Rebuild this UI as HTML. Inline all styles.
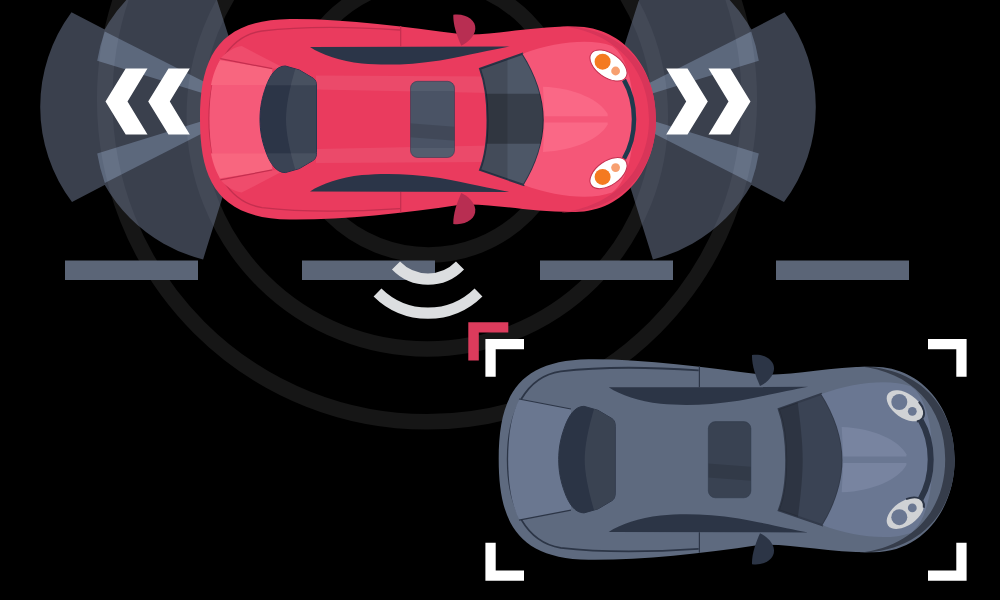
<!DOCTYPE html>
<html><head><meta charset="utf-8"><style>
html,body{margin:0;padding:0;background:#000;}
svg{display:block;}
</style></head><body>
<svg width="1000" height="600" viewBox="0 0 1000 600">
<rect width="1000" height="600" fill="#000"/>

<g fill="none" stroke="#161616" stroke-width="15.5">
  <circle cx="428.5" cy="117" r="138"/>
  <circle cx="427.3" cy="116" r="233"/>
  <circle cx="427" cy="99.5" r="322.3"/>
</g>

<g opacity="0.58">
  <path d="M254,107 L71.5,12.3 A158.4,158.4 0 0 0 72,202 Z M251,106 L213.8,-10 L136.5,-10 A157,157 0 0 0 203.1,259.4 Z" fill="#646e85"/>
  <path d="M264,112 L104.8,31.4 A170,170 0 0 0 97.2,60.7 Z" fill="#9fb3d6"/>
  <path d="M264,102 L97.2,153.6 A170,170 0 0 0 104.8,182.9 Z" fill="#9fb3d6"/>
</g>
<path d="M147.5,68.5 L125.7,68.5 L105.5,101.5 L125.7,134.5 L147.5,134.5 L127.5,101.5 Z M189.8,68.5 L168.5,68.5 L148.2,101.5 L168.5,134.5 L189.8,134.5 L169.8,101.5 Z" fill="#ffffff"/>
<g transform="translate(856,0) scale(-1,1)">
<g opacity="0.58">
  <path d="M254,107 L71.5,12.3 A158.4,158.4 0 0 0 72,202 Z M251,106 L213.8,-10 L136.5,-10 A157,157 0 0 0 203.1,259.4 Z" fill="#646e85"/>
  <path d="M264,112 L104.8,31.4 A170,170 0 0 0 97.2,60.7 Z" fill="#9fb3d6"/>
  <path d="M264,102 L97.2,153.6 A170,170 0 0 0 104.8,182.9 Z" fill="#9fb3d6"/>
</g>
<path d="M147.5,68.5 L125.7,68.5 L105.5,101.5 L125.7,134.5 L147.5,134.5 L127.5,101.5 Z M189.8,68.5 L168.5,68.5 L148.2,101.5 L168.5,134.5 L189.8,134.5 L169.8,101.5 Z" fill="#ffffff"/></g>
<g fill="#5b6577"><rect x="65" y="260.5" width="133" height="19.5"/><rect x="302" y="260.5" width="133" height="19.5"/><rect x="540" y="260.5" width="133" height="19.5"/><rect x="776" y="260.5" width="133" height="19.5"/></g>

<g fill="none" stroke="#dcdee0" stroke-width="11.2">
  <path d="M396,265.5 A44.5,44.5 0 0 0 460,265.5"/>
  <path d="M377.5,292.5 A72,72 0 0 0 478.5,292.5"/>
</g>
<path d="M200,119 C200,56 219,20 290,19 C345,18.5 405,27 460,34 C490,36.5 530,26 575,26.5 C625,27 656,70 656,119 C656,168 625,211.5 575,212 C530,212.5 490,202.5 460,204.7 C400,214 340,220 290,219.5 C219,218.5 200,182 200,119 Z" fill="#ea3b5e"/>
<path d="M316,75.5 L492,76.5 L492,93 L316,89.5 Z M316,149.1 L492,145.6 L492,162.1 L316,163.1 Z" fill="#fff" opacity="0.08"/>
<path d="M560,26 C625,27 656,70 656,119 C656,168 625,211.5 560,212.6 C612,207 649,172 649,119 C649,66 612,31 560,26 Z" fill="#d83559"/>
<path d="M400,30 C340,26 300,26.5 262,31 C228,36 209,70 209,119 C209,168 228,202 262,207.6 C300,212 340,212.6 400,208.6" fill="none" stroke="#c42f4f" stroke-width="1.3"/>
<path d="M221,58.5 L272.3,68.7 L272.3,170 L221,180 C213,165 209.5,145 209.5,119 C209.5,93 213,73 221,58.5 Z" fill="#f55a79"/>
<path d="M221,58.5 L272.3,68.7 L270,85 L211,85 C213,74 217,65 221,58.5 Z" fill="#f8667f"/>
<path d="M221,180 L272.3,170 L270,153.6 L211,153.6 C213,164.6 217,173.6 221,180 Z" fill="#f8667f"/>
<path d="M219,60 C226,52 234,47 241.7,46 L284,68 L272.3,68.7 Z" fill="#ef4c6c"/>
<path d="M219,178.6 C226,186.6 234,191.6 241.7,192.6 L284,170.6 L272.3,170 Z" fill="#ef4c6c"/>
<path d="M220.3,58.7 L272.3,68.7 M220.3,179.9 L272.3,169.9" stroke="#c42f4f" stroke-width="1.2"/>
<clipPath id="rwr"><path d="M285.3,66 L299.3,70 L313.3,78.3 C316,80 316.5,83 316.5,86 L316.5,152.6 C316.5,155.6 316,158.6 313.3,160.3 L299.3,168.6 L285.3,172.6 C276,172.6 270,163 266,152 C262,141 260,131 260,119.3 C260,107.6 262,97.6 266,86.6 C270,75.6 276,66 285.3,66 Z"/></clipPath>
<path d="M285.3,66 L299.3,70 L313.3,78.3 C316,80 316.5,83 316.5,86 L316.5,152.6 C316.5,155.6 316,158.6 313.3,160.3 L299.3,168.6 L285.3,172.6 C276,172.6 270,163 266,152 C262,141 260,131 260,119.3 C260,107.6 262,97.6 266,86.6 C270,75.6 276,66 285.3,66 Z" fill="#2c3547" stroke="#22314a" stroke-width="1"/>
<g clip-path="url(#rwr)"><path d="M298,60 C290,85 286,105 286,119.3 C286,133.6 290,153.6 298,178.6 L330,180 L330,60 Z" fill="#fff" opacity="0.075"/><rect x="250" y="60" width="80" height="25.3" fill="#fff" opacity="0.07"/><rect x="250" y="153.3" width="80" height="25.3" fill="#fff" opacity="0.07"/></g>
<path d="M310,47 L509.5,46.5 C490,50 470,55 440,60.5 C410,65 385,65.5 362,63.5 C340,61 322,55 310,47 Z" fill="#2b3548"/>
<path d="M310,191.6 L509.5,192.1 C490,188.6 470,183.6 440,178.1 C410,173.6 385,173.1 362,175.1 C340,177.6 322,183.6 310,191.6 Z" fill="#2b3548"/>
<path d="M400.7,26 V47 M400.7,192 V212.5" stroke="#c42f4f" stroke-width="1.2"/>
<clipPath id="srr"><rect x="410.5" y="81.3" width="44" height="76.2" rx="7"/></clipPath>
<rect x="410.5" y="81.3" width="44" height="76.2" rx="7" fill="#4a5365"/>
<g clip-path="url(#srr)"><rect x="405" y="75" width="55" height="16" fill="#fff" opacity="0.06"/><rect x="405" y="148" width="55" height="16" fill="#fff" opacity="0.06"/><path d="M405,123 L460,127 L460,141 L405,137 Z" fill="#000" opacity="0.12"/></g>
<rect x="410.5" y="81.3" width="44" height="76.2" rx="7" fill="none" stroke="#22314a" stroke-width="0.8" opacity="0.6"/>
<clipPath id="wsr"><path d="M480,68.75 L522.5,53.75 C536,75 543.75,98 543.75,120 C543.75,142 536,165 523.75,185 L480,170 C486,155 487.5,138 487.5,120 C487.5,102 486,85 480,68.75 Z"/></clipPath>
<path d="M480,68.75 L522.5,53.75 C536,75 543.75,98 543.75,120 C543.75,142 536,165 523.75,185 L480,170 C486,155 487.5,138 487.5,120 C487.5,102 486,85 480,68.75 Z" fill="#4d5767" stroke="#2b3548" stroke-width="2"/>
<g clip-path="url(#wsr)"><rect x="470" y="40" width="37.5" height="160" fill="#000" opacity="0.13"/><rect x="470" y="93.75" width="90" height="50" fill="#000" opacity="0.28"/></g>
<path d="M522.5,53.75 C555,42 590,38 612,46 C628,56 634,90 634,119.3 C634,148 628,182 612,192.6 C590,200.6 555,196.6 523.75,185 C536,165 543.75,142 543.75,120 C543.75,98 536,75 522.5,53.75 Z" fill="#f55778"/>
<path d="M543,86.7 C575,88 600,100 607.7,114 L607.7,116.3 L544.5,116.3 Z" fill="#fa6886"/>
<path d="M543,152 C575,150.6 600,138.6 607.7,124.6 L607.7,122.6 L544.5,122.6 Z" fill="#fa6886"/>
<path d="M624,80 C631,92 634,106 634,119.3 C634,132.6 631,146.6 624,158.6" fill="none" stroke="#1f3a4e" stroke-width="4.5"/>
<ellipse cx="608.5" cy="65.5" rx="21" ry="12" transform="rotate(35 608.5 65.5)" fill="#ffffff" stroke="#c52f4f" stroke-width="1"/>
<circle cx="602.6" cy="61.7" r="8" fill="#f47a20"/>
<circle cx="615.6" cy="71" r="4.4" fill="#f7a070"/>
<ellipse cx="608.5" cy="173.1" rx="21" ry="12" transform="rotate(-35 608.5 173.1)" fill="#ffffff" stroke="#c52f4f" stroke-width="1"/>
<circle cx="602.6" cy="176.9" r="8" fill="#f47a20"/>
<circle cx="615.6" cy="167.6" r="4.4" fill="#f7a070"/>
<path d="M453.3,14.7 C466,13 476,20 475.3,29 C474.6,37 467,43 461.3,45.7 C457,36 453,25 453.3,14.7 Z" fill="#b82e52"/>
<path d="M453.3,223.9 C466,225.6 476,218.6 475.3,209.6 C474.6,201.6 467,195.6 461.3,192.9 C457,202.6 453,213.6 453.3,223.9 Z" fill="#b82e52"/>

<path d="M468.3,322.3 H508.3 V332.5 H478.8 V360.4 H468.3 Z" fill="#dc3b5c"/>
<g fill="#ffffff">
  <path d="M485.4,339 H524 V349.3 H495.7 V376.7 H485.4 Z"/>
  <path d="M966.6,339 H928 V349.3 H956.3 V376.7 H966.6 Z"/>
  <path d="M485.4,580.7 H524 V570.4 H495.7 V542.7 H485.4 Z"/>
  <path d="M966.6,580.7 H928 V570.4 H956.3 V542.7 H966.6 Z"/>
</g>
<g transform="translate(298.7,340.3)"><path d="M200,119 C200,56 219,20 290,19 C345,18.5 405,27 460,34 C490,36.5 530,26 575,26.5 C625,27 656,70 656,119 C656,168 625,211.5 575,212 C530,212.5 490,202.5 460,204.7 C400,214 340,220 290,219.5 C219,218.5 200,182 200,119 Z" fill="#5e6a7f"/>
<path d="M560,26 C625,27 656,70 656,119 C656,168 625,211.5 560,212.6 C612,207 646.5,172 646.5,119 C646.5,66 612,31 560,26 Z" fill="#363d4b"/>
<path d="M400,30 C340,26 300,26.5 262,31 C228,36 209,70 209,119 C209,168 228,202 262,207.6 C300,212 340,212.6 400,208.6" fill="none" stroke="#2c3546" stroke-width="1.8"/>
<path d="M221,58.5 L272.3,68.7 L272.3,170 L221,180 C213,165 209.5,145 209.5,119 C209.5,93 213,73 221,58.5 Z" fill="#6a7790"/>
<path d="M220.3,58.7 L272.3,68.7 M220.3,179.9 L272.3,169.9" stroke="#2c3546" stroke-width="1.2"/>
<clipPath id="rwg"><path d="M285.3,66 L299.3,70 L313.3,78.3 C316,80 316.5,83 316.5,86 L316.5,152.6 C316.5,155.6 316,158.6 313.3,160.3 L299.3,168.6 L285.3,172.6 C276,172.6 270,163 266,152 C262,141 260,131 260,119.3 C260,107.6 262,97.6 266,86.6 C270,75.6 276,66 285.3,66 Z"/></clipPath>
<path d="M285.3,66 L299.3,70 L313.3,78.3 C316,80 316.5,83 316.5,86 L316.5,152.6 C316.5,155.6 316,158.6 313.3,160.3 L299.3,168.6 L285.3,172.6 C276,172.6 270,163 266,152 C262,141 260,131 260,119.3 C260,107.6 262,97.6 266,86.6 C270,75.6 276,66 285.3,66 Z" fill="#2b3445" stroke="#2b3445" stroke-width="1"/>
<g clip-path="url(#rwg)"><path d="M298,60 C290,85 286,105 286,119.3 C286,133.6 290,153.6 298,178.6 L330,180 L330,60 Z" fill="#fff" opacity="0.075"/><rect x="250" y="60" width="80" height="25.3" fill="#fff" opacity="0"/><rect x="250" y="153.3" width="80" height="25.3" fill="#fff" opacity="0"/></g>
<path d="M310,47 L509.5,46.5 C490,50 470,55 440,60.5 C410,65 385,65.5 362,63.5 C340,61 322,55 310,47 Z" fill="#2c3546"/>
<path d="M310,191.6 L509.5,192.1 C490,188.6 470,183.6 440,178.1 C410,173.6 385,173.1 362,175.1 C340,177.6 322,183.6 310,191.6 Z" fill="#2c3546"/>
<path d="M400.7,26 V47 M400.7,192 V212.5" stroke="#2c3546" stroke-width="1.2"/>
<clipPath id="srg"><rect x="409.6" y="81.3" width="42.6" height="76.2" rx="7"/></clipPath>
<rect x="409.6" y="81.3" width="42.6" height="76.2" rx="7" fill="#394252"/>
<g clip-path="url(#srg)"><rect x="405" y="75" width="55" height="16" fill="#fff" opacity="0"/><rect x="405" y="148" width="55" height="16" fill="#fff" opacity="0"/><path d="M405,123 L460,127 L460,141 L405,137 Z" fill="#000" opacity="0.12"/></g>
<rect x="409.6" y="81.3" width="42.6" height="76.2" rx="7" fill="none" stroke="#2b3445" stroke-width="0.8" opacity="0.6"/>
<clipPath id="wsg"><path d="M480,68.75 L522.5,53.75 C536,75 543.75,98 543.75,120 C543.75,142 536,165 523.75,185 L480,170 C486,155 487.5,138 487.5,120 C487.5,102 486,85 480,68.75 Z"/></clipPath>
<path d="M480,68.75 L522.5,53.75 C536,75 543.75,98 543.75,120 C543.75,142 536,165 523.75,185 L480,170 C486,155 487.5,138 487.5,120 C487.5,102 486,85 480,68.75 Z" fill="#3a4354" stroke="#323a4a" stroke-width="2"/>
<g clip-path="url(#wsg)"><path d="M470,40 L496,40 C501,75 504,100 504,120 C504,140 501,165 496,200 L470,200 Z" fill="#000" opacity="0.21"/><rect x="470" y="93.75" width="90" height="50" fill="#000" opacity="0"/></g>
<path d="M522.5,53.75 C555,42 590,38 612,46 C628,56 634,90 634,119.3 C634,148 628,182 612,192.6 C590,200.6 555,196.6 523.75,185 C536,165 543.75,142 543.75,120 C543.75,98 536,75 522.5,53.75 Z" fill="#6a7792"/>
<path d="M543,86.7 C575,88 600,100 607.7,114 L607.7,116.3 L544.5,116.3 Z" fill="#7884a0"/>
<path d="M543,152 C575,150.6 600,138.6 607.7,124.6 L607.7,122.6 L544.5,122.6 Z" fill="#7884a0"/>
<path d="M622,80 C629,92 632,106 632,119.3 C632,132.6 629,146.6 622,158.6" fill="none" stroke="#2c3546" stroke-width="6"/>
<ellipse cx="606.5" cy="65.5" rx="21" ry="12" transform="rotate(35 606.5 65.5)" fill="#d0d2d5"/>
<ellipse cx="606.5" cy="65.5" rx="21.3" ry="12.3" transform="rotate(35 606.5 65.5)" fill="none" stroke="#2c3546" stroke-width="2" stroke-dasharray="24 82" stroke-dashoffset="17"/>
<circle cx="600.6" cy="61.7" r="8" fill="#6a7792"/>
<circle cx="613.6" cy="71" r="4.4" fill="#6a7792"/>
<ellipse cx="606.5" cy="173.1" rx="21" ry="12" transform="rotate(-35 606.5 173.1)" fill="#d0d2d5"/>
<ellipse cx="606.5" cy="173.1" rx="21.3" ry="12.3" transform="rotate(-35 606.5 173.1)" fill="none" stroke="#2c3546" stroke-width="2" stroke-dasharray="24 82" stroke-dashoffset="17"/>
<circle cx="600.6" cy="176.9" r="8" fill="#6a7792"/>
<circle cx="613.6" cy="167.6" r="4.4" fill="#6a7792"/>
<path d="M453.3,14.7 C466,13 476,20 475.3,29 C474.6,37 467,43 461.3,45.7 C457,36 453,25 453.3,14.7 Z" fill="#2c3546"/>
<path d="M453.3,223.9 C466,225.6 476,218.6 475.3,209.6 C474.6,201.6 467,195.6 461.3,192.9 C457,202.6 453,213.6 453.3,223.9 Z" fill="#2c3546"/></g>
</svg>
</body></html>
